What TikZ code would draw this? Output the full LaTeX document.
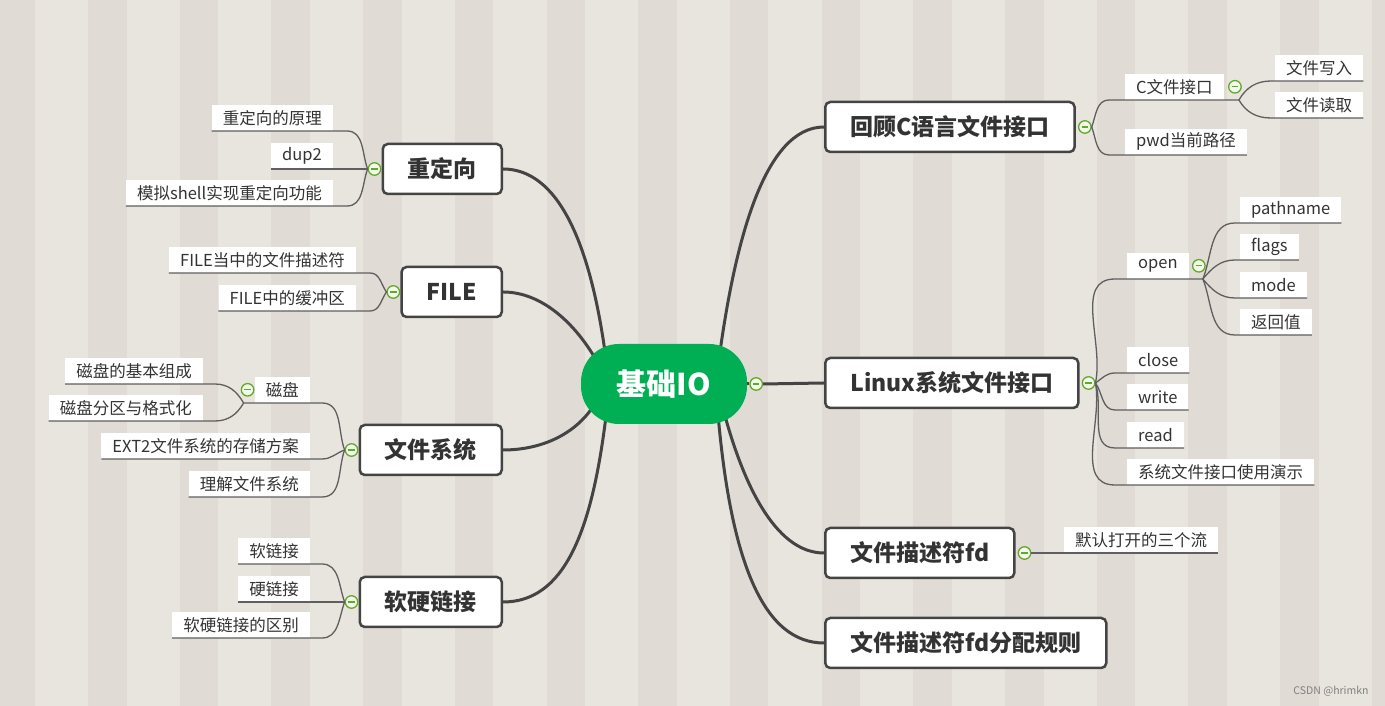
\documentclass[tikz,border=0pt]{standalone}
\usepackage{fontspec}
\setmainfont{Noto Sans CJK SC}
\usepackage{xcolor}
\usetikzlibrary{backgrounds}

\definecolor{paper}{RGB}{232,228,222}
\definecolor{paperDark}{RGB}{225,219,214}
\definecolor{ink}{RGB}{51,51,51}
\definecolor{edge}{RGB}{68,68,68}
\definecolor{twigGray}{RGB}{95,95,95}
\definecolor{hub}{RGB}{0,174,84}
\definecolor{foldGreen}{RGB}{96,170,40}
\definecolor{foldFill}{RGB}{242,248,236}

\begin{document}
\begin{tikzpicture}[
  x=1pt, y=1pt,
  core/.style={fill=hub, rounded corners=38pt, minimum width=166pt, minimum height=80pt,
    text=white, font=\bfseries\fontsize{30}{34}\selectfont},
  topic/.style={draw=edge, line width=2.5pt, fill=white, rounded corners=5pt, text=ink,
    minimum height=50pt, inner xsep=25pt, font=\bfseries\fontsize{23}{26}\selectfont},
  leaf/.style={fill=white, text=ink, minimum height=26pt, inner xsep=11pt, inner ysep=0pt,
    font=\fontsize{16.5}{18}\selectfont},
  fold/.style={circle, draw=foldGreen, fill=foldFill, line width=1.3pt, minimum size=12.5pt, inner sep=0pt,
    path picture={\draw[foldGreen, line width=1.3pt]
      ([xshift=-3.2pt]path picture bounding box.center) -- ([xshift=3.2pt]path picture bounding box.center);}},
  trunk/.style={draw=edge, line width=3pt},
  twig/.style={draw=twigGray, line width=1.3pt}
]
\useasboundingbox (0,0) rectangle (1385,706);
\begin{scope}[on background layer]
  \fill[paper] (0,0) rectangle (1385,706);
  \foreach \k in {0,...,15}
    \fill[paperDark] ({-3.7+91.7*\k},0) rectangle ++(38.5,706);
\end{scope}

\node[core] (core) at (664,322) {基础IO};

\node[topic, anchor=west] (review) at (824,579) {回顾C语言文件接口};
\node[topic, anchor=west] (linuxIO) at (824,323) {Linux系统文件接口};
\node[topic, anchor=west] (fd) at (824,153) {文件描述符fd};
\node[topic, anchor=west] (fdRule) at (824,63) {文件描述符fd分配规则};
\node[topic, anchor=east] (redirect) at (503,537) {重定向};
\node[topic, anchor=east] (fileNode) at (503,414) {FILE};
\node[topic, anchor=east] (fsys) at (503,256) {文件系统};
\node[topic, anchor=east] (links) at (503,104) {软硬链接};

\node[leaf, anchor=south west] (cFile) at (1125,606) {C文件接口};
\node[leaf, anchor=south west] (cWrite) at (1275,625) {文件写入};
\node[leaf, anchor=south west] (cRead) at (1275,588) {文件读取};
\node[leaf, anchor=south west] (pwd) at (1125,551) {pwd当前路径};
\node[leaf, anchor=south west] (open) at (1127,427) {open};
\node[leaf, anchor=south west] (pathName) at (1240,483) {pathname};
\node[leaf, anchor=south west] (flags) at (1240,446) {flags};
\node[leaf, anchor=south west] (mode) at (1240,408) {mode};
\node[leaf, anchor=south west] (retVal) at (1240,371) {返回值};
\node[leaf, anchor=south west] (close) at (1127,333) {close};
\node[leaf, anchor=south west] (write) at (1127,296) {write};
\node[leaf, anchor=south west] (read) at (1127,258) {read};
\node[leaf, anchor=south west] (demo) at (1127,221) {系统文件接口使用演示};
\node[leaf, anchor=south west] (std3) at (1064,153) {默认打开的三个流};

\node[leaf, anchor=south east] (rdPrinc) at (333,575) {重定向的原理};
\node[leaf, anchor=south east] (dup2) at (333,537) {dup2};
\node[leaf, anchor=south east] (rdShell) at (333,500) {模拟shell实现重定向功能};
\node[leaf, anchor=south east] (fileFd) at (356,433) {FILE当中的文件描述符};
\node[leaf, anchor=south east] (fileBuf) at (356,395) {FILE中的缓冲区};
\node[leaf, anchor=south east] (disk) at (310,303) {磁盘};
\node[leaf, anchor=south east] (diskBase) at (203,322) {磁盘的基本组成};
\node[leaf, anchor=south east] (diskPart) at (203,285) {磁盘分区与格式化};
\node[leaf, anchor=south east] (ext2) at (310,247) {EXT2文件系统的存储方案};
\node[leaf, anchor=south east] (fsKnow) at (310,209) {理解文件系统};
\node[leaf, anchor=south east] (soft) at (310,142) {软链接};
\node[leaf, anchor=south east] (hard) at (310,104) {硬链接};
\node[leaf, anchor=south east] (diff) at (310,68) {软硬链接的区别};

\node[fold] (coreF) at ([xshift=9pt]core.east) {};
\node[fold] (reviewF) at ([xshift=9pt]review.east) {};
\node[fold] (linuxF) at ([xshift=9pt]linuxIO.east) {};
\node[fold] (fdF) at ([xshift=9pt]fd.east) {};
\node[fold] (redirectF) at ([xshift=-7pt]redirect.west) {};
\node[fold] (fileF) at ([xshift=-7pt]fileNode.west) {};
\node[fold] (fsysF) at ([xshift=-7pt]fsys.west) {};
\node[fold] (linksF) at ([xshift=-7pt]links.west) {};
\node[fold] (cFileF) at ([xshift=11pt]cFile.east) {};
\node[fold] (openF) at ([xshift=10pt]open.east) {};
\node[fold] (diskF) at ([xshift=-7pt]disk.west) {};

\begin{scope}[on background layer]
  \draw[trunk] ([xshift=56pt,yshift=-8pt]core.north) to[out=82,in=180,out distance=110pt,in distance=60pt] (review.west);
  \draw[trunk] ([xshift=-59pt,yshift=-8pt]core.north) to[out=98,in=0,out distance=110pt,in distance=55pt] (redirect.east);
  \draw[trunk] ([xshift=-68pt,yshift=-16pt]core.north) to[out=120,in=0,out distance=40pt,in distance=40pt] (fileNode.east);
  \draw[trunk] ([xshift=-72pt,yshift=16pt]core.south) to[out=-125,in=0,out distance=35pt,in distance=35pt] (fsys.east);
  \draw[trunk] ([xshift=-58pt,yshift=8pt]core.south) to[out=-97,in=0,out distance=120pt,in distance=60pt] (links.east);
  \draw[trunk] ([xshift=60pt,yshift=12pt]core.south) to[out=-75,in=180,out distance=70pt,in distance=50pt] (fd.west);
  \draw[trunk] ([xshift=54pt,yshift=10pt]core.south) to[out=-85,in=180,out distance=150pt,in distance=60pt] (fdRule.west);
\end{scope}
\draw[trunk] (core.east) -- (coreF.west);
\draw[trunk] (coreF.east) -- (linuxIO.west);

\draw[twig] (reviewF.east) to[out=70,in=180] ([xshift=-16pt]cFile.south west) -- ([xshift=15pt]cFile.south east) coordinate (cFileB);
\draw[twig] (reviewF.east) to[out=-70,in=180] ([xshift=-16pt]pwd.south west) -- (pwd.south east);
\draw[twig] (cFileB) to[out=60,in=180] ([xshift=-4pt]cWrite.south west) -- (cWrite.south east);
\draw[twig] (cFileB) to[out=-60,in=180] ([xshift=-4pt]cRead.south west) -- (cRead.south east);

\draw[twig] (linuxF.east) to[out=78,in=180] ([xshift=-12pt]open.south west) -- ([xshift=14pt]open.south east) coordinate (openB);
\draw[twig] (linuxF.east) to[out=35,in=180] ([xshift=-12pt]close.south west) -- (close.south east);
\draw[twig] (linuxF.east) to[out=-55,in=180] ([xshift=-12pt]write.south west) -- (write.south east);
\draw[twig] (linuxF.east) to[out=-72,in=180] ([xshift=-12pt]read.south west) -- (read.south east);
\draw[twig] (linuxF.east) to[out=-80,in=180] ([xshift=-12pt]demo.south west) -- (demo.south east);
\draw[twig] (openB) to[out=68,in=180] ([xshift=-5pt]pathName.south west) -- (pathName.south east);
\draw[twig] (openB) to[out=50,in=180] ([xshift=-5pt]flags.south west) -- (flags.south east);
\draw[twig] (openB) to[out=-50,in=180] ([xshift=-5pt]mode.south west) -- (mode.south east);
\draw[twig] (openB) to[out=-68,in=180] ([xshift=-5pt]retVal.south west) -- (retVal.south east);

\draw[twig] (fdF.east) -- (std3.south east);

\draw[twig] (redirectF.west) to[out=110,in=0] ([xshift=14pt]rdPrinc.south east) -- (rdPrinc.south west);
\draw[twig] (redirectF.west) -- (dup2.south west);
\draw[twig] (redirectF.west) to[out=-110,in=0] ([xshift=14pt]rdShell.south east) -- (rdShell.south west);

\draw[twig] (fileF.west) to[out=125,in=0] ([xshift=14pt]fileFd.south east) -- (fileFd.south west);
\draw[twig] (fileF.west) to[out=-125,in=0] ([xshift=14pt]fileBuf.south east) -- (fileBuf.south west);

\draw[twig] (fsysF.west) to[out=110,in=0] ([xshift=12pt]disk.south east) -- (disk.south west) -- ++(-11pt,0) coordinate (diskB);
\draw[twig] (fsysF.west) to[out=-160,in=0] ([xshift=12pt]ext2.south east) -- (ext2.south west);
\draw[twig] (fsysF.west) to[out=-110,in=0] ([xshift=12pt]fsKnow.south east) -- (fsKnow.south west);
\draw[twig] (diskB) to[out=120,in=0] ([xshift=12pt]diskBase.south east) -- (diskBase.south west);
\draw[twig] (diskB) to[out=-120,in=0] ([xshift=12pt]diskPart.south east) -- (diskPart.south west);

\draw[twig] (linksF.west) to[out=110,in=0] ([xshift=12pt]soft.south east) -- (soft.south west);
\draw[twig] (linksF.west) -- (hard.south west);
\draw[twig] (linksF.west) to[out=-110,in=0] ([xshift=12pt]diff.south east) -- (diff.south west);

\node[text=gray, font=\fontsize{10.5}{12}\selectfont] (mark) at (1331,15) {CSDN @hrimkn};
\end{tikzpicture}
\end{document}
